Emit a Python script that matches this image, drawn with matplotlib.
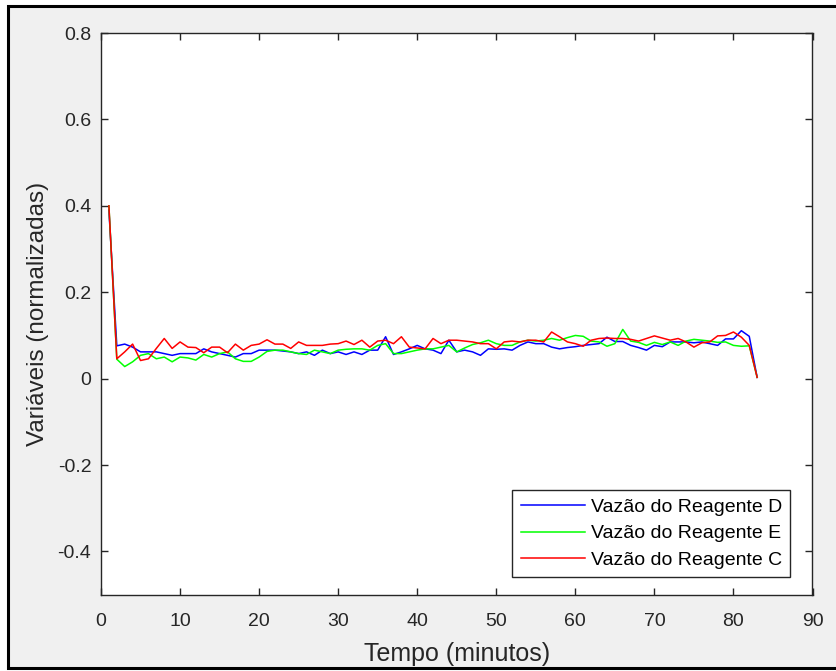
import matplotlib
matplotlib.use("Agg")
import matplotlib.pyplot as plt
from matplotlib.patches import Rectangle
from matplotlib.lines import Line2D

tempo = list(range(1, 84))

vazao_D = [0.39, 0.076, 0.080, 0.073, 0.062, 0.062, 0.062, 0.058, 0.054, 0.058,
           0.058, 0.058, 0.069, 0.062, 0.058, 0.054, 0.050, 0.058, 0.058, 0.066,
           0.066, 0.066, 0.064, 0.062, 0.058, 0.062, 0.054, 0.066, 0.058, 0.062,
           0.056, 0.062, 0.056, 0.066, 0.066, 0.097, 0.056, 0.062, 0.069, 0.077,
           0.069, 0.066, 0.058, 0.089, 0.062, 0.066, 0.062, 0.054, 0.069, 0.068,
           0.069, 0.066, 0.077, 0.085, 0.081, 0.081, 0.073, 0.069, 0.072, 0.074,
           0.077, 0.079, 0.081, 0.096, 0.086, 0.086, 0.077, 0.072, 0.066, 0.077,
           0.074, 0.085, 0.085, 0.085, 0.083, 0.085, 0.081, 0.077, 0.092, 0.092,
           0.111, 0.098, 0.003]

vazao_E = [0.40, 0.045, 0.028, 0.039, 0.054, 0.058, 0.046, 0.050, 0.039, 0.050,
           0.048, 0.043, 0.056, 0.050, 0.058, 0.062, 0.046, 0.040, 0.040, 0.050,
           0.063, 0.066, 0.066, 0.062, 0.058, 0.056, 0.066, 0.062, 0.058, 0.066,
           0.068, 0.069, 0.069, 0.066, 0.077, 0.081, 0.058, 0.058, 0.062, 0.066,
           0.069, 0.069, 0.073, 0.077, 0.062, 0.071, 0.079, 0.083, 0.089, 0.081,
           0.077, 0.077, 0.085, 0.089, 0.087, 0.089, 0.093, 0.089, 0.095, 0.100,
           0.098, 0.087, 0.085, 0.075, 0.081, 0.114, 0.087, 0.084, 0.077, 0.084,
           0.079, 0.085, 0.077, 0.087, 0.091, 0.089, 0.087, 0.084, 0.085, 0.077,
           0.075, 0.076, 0.003]

vazao_C = [0.40, 0.046, 0.062, 0.080, 0.042, 0.046, 0.070, 0.093, 0.070, 0.085,
           0.073, 0.072, 0.060, 0.073, 0.073, 0.060, 0.080, 0.066, 0.077, 0.080,
           0.090, 0.080, 0.080, 0.070, 0.085, 0.077, 0.077, 0.077, 0.080, 0.081,
           0.087, 0.079, 0.089, 0.073, 0.087, 0.089, 0.081, 0.097, 0.073, 0.071,
           0.069, 0.093, 0.081, 0.089, 0.089, 0.087, 0.085, 0.081, 0.081, 0.069,
           0.085, 0.087, 0.085, 0.089, 0.089, 0.085, 0.108, 0.097, 0.085, 0.081,
           0.075, 0.089, 0.093, 0.094, 0.093, 0.093, 0.091, 0.087, 0.093, 0.099,
           0.094, 0.089, 0.093, 0.085, 0.073, 0.083, 0.085, 0.099, 0.100, 0.108,
           0.096, 0.077, 0.003]

legend_labels = ["Vazão do Reagente D", "Vazão do Reagente E", "Vazão do Reagente C"]
xticks = [0, 10, 20, 30, 40, 50, 60, 70, 80, 90]
yticks = [-0.4, -0.2, 0, 0.2, 0.4, 0.6, 0.8]
ytick_labels = ["-0.4", "-0.2", "0", "0.2", "0.4", "0.6", "0.8"]

plt.rcParams['font.family'] = ['Liberation Sans', 'DejaVu Sans']

W, H = 837, 671
fig = plt.figure(figsize=(W / 100, H / 100), dpi=100, facecolor='white')

# screenshot-style gray background with black frame (right side cut off)
fx0, fy_top, fy_bot = 8 / W, 1 - 6 / H, 1 - 668 / H
bg = Rectangle((fx0, fy_bot), 1.0 - fx0, fy_top - fy_bot,
               transform=fig.transFigure, facecolor='#f0f0f0',
               edgecolor='none', zorder=-10)
fig.add_artist(bg)
frame = Line2D([1.0, fx0, fx0, 1.0], [fy_top, fy_top, fy_bot, fy_bot],
               transform=fig.transFigure, color='black', lw=2.2, zorder=-9,
               solid_joinstyle='miter')
fig.add_artist(frame)

ax_l, ax_r, ax_t, ax_b = 101, 812.5, 33, 594.7
ax = fig.add_axes([ax_l / W, 1 - ax_b / H, (ax_r - ax_l) / W, (ax_b - ax_t) / H])
ax.set_zorder(1)
ax.set_facecolor('white')

ax.plot(tempo, vazao_D, color=(0, 0, 1), lw=1.1, label=legend_labels[0])
ax.plot(tempo, vazao_E, color=(0, 1, 0), lw=1.1, label=legend_labels[1])
ax.plot(tempo, vazao_C, color=(1, 0, 0), lw=1.1, label=legend_labels[2])

ax.set_xlim(0, 90)
ax.set_ylim(-0.5, 0.8)
ax.set_xticks(xticks)
ax.set_yticks(yticks)
ax.set_yticklabels(ytick_labels)

edge = '#262626'
for s in ax.spines.values():
    s.set_color(edge)
    s.set_linewidth(1.0)
ax.tick_params(direction='in', length=5, width=1.0, colors=edge,
               labelcolor='#262626', labelsize=14, top=True, right=True)
ax.tick_params(axis='x', pad=13)
ax.tick_params(axis='y', pad=7)

ax.set_xlabel("Tempo (minutos)", fontsize=18, color='#262626', labelpad=9)
ax.set_ylabel("Variáveis (normalizadas)", fontsize=17.5, color='#262626', labelpad=6)

anchor_x = (790 - ax_l) / (ax_r - ax_l)
anchor_y = (ax_b - 577) / (ax_b - ax_t)
leg = ax.legend(loc='lower right', bbox_to_anchor=(anchor_x, anchor_y),
                borderaxespad=0, fontsize=14, frameon=True, fancybox=False,
                edgecolor=edge, framealpha=1, handlelength=3.3, handletextpad=0.3,
                borderpad=0.42, labelspacing=0.45)
leg.get_frame().set_linewidth(1.0)

fig.savefig("out.png", dpi=100, facecolor=fig.get_facecolor())
